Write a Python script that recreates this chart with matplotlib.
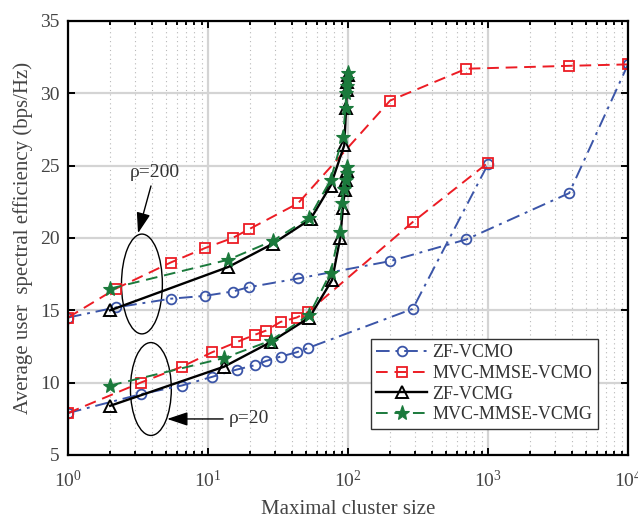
import matplotlib
matplotlib.use("Agg")
import matplotlib.pyplot as plt
from matplotlib.patches import Ellipse
from matplotlib.ticker import LogLocator, NullFormatter

plt.rcParams["font.family"] = ["Liberation Serif", "DejaVu Serif"]
plt.rcParams["mathtext.fontset"] = "stix"

# rho = 200, orthogonal-pilot curves
x_vcmo_hi = [1, 2.2, 5.4, 9.5, 15, 19.6, 44, 200, 700, 3800, 10000]
zf_vcmo_hi = [14.5, 15.2, 15.8, 16.0, 16.3, 16.6, 17.2, 18.4, 19.9, 23.1, 32.0]
mmse_vcmo_hi = [14.5, 16.5, 18.3, 19.3, 20.0, 20.6, 22.4, 29.5, 31.7, 31.9, 32.0]

# rho = 20, orthogonal-pilot curves
x_vcmo_lo = [1, 3.3, 6.5, 10.7, 16, 21.5, 26, 33, 43, 52, 290, 1000]
zf_vcmo_lo = [7.9, 9.2, 9.8, 10.4, 10.9, 11.2, 11.5, 11.8, 12.1, 12.4, 15.1, 25.1]
mmse_vcmo_lo = [7.9, 10.0, 11.1, 12.1, 12.8, 13.3, 13.6, 14.2, 14.5, 14.9, 21.1, 25.2]

# rho = 200, group curves
x_zf_vcmg_hi = [2, 14, 29, 54, 75, 94, 97, 98, 99, 100]
zf_vcmg_hi = [15.0, 18.0, 19.6, 21.3, 23.6, 26.4, 29.0, 30.2, 30.8, 31.3]
x_mmse_vcmg_hi = [2, 14, 29, 53, 75, 92, 96, 97, 98, 99, 100]
mmse_vcmg_hi = [16.5, 18.5, 19.8, 21.4, 24.0, 27.0, 29.0, 30.0, 30.5, 31.0, 31.4]

# rho = 20, group curves
x_zf_vcmg_lo = [2, 13, 28, 53, 77, 88, 92, 95, 97, 99]
zf_vcmg_lo = [8.4, 11.1, 12.8, 14.5, 17.1, 20.0, 22.1, 23.3, 24.0, 24.6]
x_mmse_vcmg_lo = [2, 13, 28, 53, 75, 87, 91, 94, 96, 98, 99]
mmse_vcmg_lo = [9.8, 11.7, 12.9, 14.7, 17.6, 20.4, 22.4, 23.4, 24.0, 24.5, 24.9]

labels = ["ZF-VCMO", "MVC-MMSE-VCMO", "ZF-VCMG", "MVC-MMSE-VCMG"]

blue = "#3b55a8"
red = "#ec1c24"
green = "#1b7a3c"

fig = plt.figure(figsize=(6.38, 5.22), dpi=100)
ax = fig.add_axes([0.1066, 0.1284, 0.8777, 0.8314])
ax.set_xscale("log")

zf_o = dict(color=blue, ls="-.", lw=1.4, marker="o", ms=7, mfc="none",
            mec=blue, mew=1.3, dashes=(7, 3, 1.5, 3))
mm_o = dict(color=red, ls="--", lw=1.4, marker="s", ms=6.5, mfc="none",
            mec=red, mew=1.3, dashes=(6, 3.5))
zf_g = dict(color="black", ls="-", lw=1.7, marker="^", ms=8, mfc="none",
            mec="black", mew=1.4)
mm_g = dict(color=green, ls="--", lw=1.4, marker="*", ms=11, mfc=green,
            mec=green, mew=0.8, dashes=(6, 3.5))

l1, = ax.plot(x_vcmo_hi, zf_vcmo_hi, **zf_o)
ax.plot(x_vcmo_lo, zf_vcmo_lo, **zf_o)
l2, = ax.plot(x_vcmo_hi, mmse_vcmo_hi, **mm_o)
ax.plot(x_vcmo_lo, mmse_vcmo_lo, **mm_o)
l3, = ax.plot(x_zf_vcmg_hi, zf_vcmg_hi, **zf_g)
ax.plot(x_zf_vcmg_lo, zf_vcmg_lo, **zf_g)
l4, = ax.plot(x_mmse_vcmg_hi, mmse_vcmg_hi, **mm_g)
ax.plot(x_mmse_vcmg_lo, mmse_vcmg_lo, **mm_g)

ax.set_xlim(1, 1e4)
ax.set_ylim(5, 35)
ax.set_yticks([5, 10, 15, 20, 25, 30, 35])
ax.xaxis.set_major_locator(LogLocator(base=10, numticks=10))
ax.xaxis.set_minor_locator(LogLocator(base=10, subs=range(2, 10), numticks=20))
ax.xaxis.set_minor_formatter(NullFormatter())

ax.grid(True, which="major", color="#d4d4d4", lw=1.6, ls="-")
ax.grid(True, which="minor", axis="x", color="#b8b8b8", lw=0.8, ls=(0, (1, 3)))
ax.set_axisbelow(True)

for s in ax.spines.values():
    s.set_linewidth(1.6)
ax.tick_params(which="both", direction="in", top=True, right=True,
               labelsize=14, labelcolor="#444444", width=1.4)
ax.tick_params(which="major", length=5)
ax.tick_params(which="minor", length=3)
ax.tick_params(axis="x", which="major", pad=11)
ax.tick_params(axis="y", which="major", pad=6)

ax.set_xlabel("Maximal cluster size", fontsize=15, color="#444444", labelpad=6)
ax.set_ylabel("Average user  spectral efficiency (bps/Hz)", fontsize=15,
              color="#444444", labelpad=5)

leg = ax.legend([l1, l2, l3, l4], labels, loc="lower right",
                bbox_to_anchor=(0.962, 0.04), fontsize=13, fancybox=False,
                edgecolor="#333333", framealpha=1, handlelength=2.8,
                borderpad=0.3, labelspacing=0.2, handletextpad=0.3)
leg.get_frame().set_linewidth(1.0)
for t in leg.get_texts():
    t.set_color("#333333")

# ellipses grouping the two rho cases
ax.add_patch(Ellipse((0.132, 0.394), 0.073, 0.23, transform=ax.transAxes,
                     fill=False, ec="black", lw=1.0))
ax.add_patch(Ellipse((0.148, 0.152), 0.073, 0.214, transform=ax.transAxes,
                     fill=False, ec="black", lw=1.0))

arrow = dict(arrowstyle="-|>,head_length=0.9,head_width=0.3", color="black",
             lw=1.0, shrinkA=2, shrinkB=0)
ax.annotate("ρ=200", xy=(0.125, 0.511), xytext=(0.155, 0.652),
            textcoords="axes fraction", xycoords="axes fraction",
            ha="center", va="center", fontsize=14, color="#333333",
            arrowprops=arrow)
ax.annotate("ρ=20", xy=(0.177, 0.083), xytext=(0.287, 0.083),
            textcoords="axes fraction", xycoords="axes fraction",
            ha="left", va="center", fontsize=14, color="#333333",
            arrowprops=arrow)

fig.savefig("out.png", dpi=100)
